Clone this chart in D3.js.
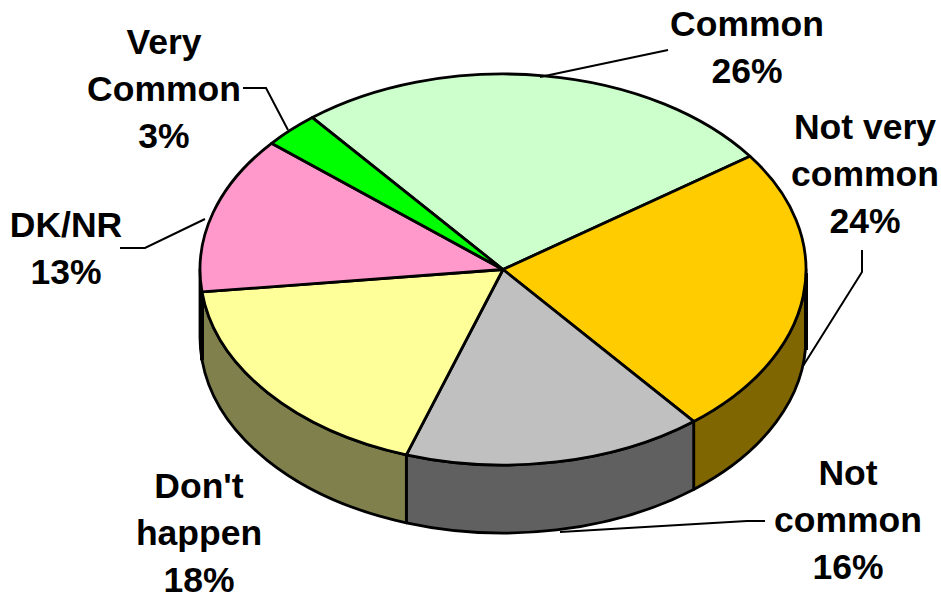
<!DOCTYPE html>
<html><head><meta charset="utf-8">
<script src="https://cdn.jsdelivr.net/npm/d3@7"></script>
<style>html,body{margin:0;background:#fff}svg{display:block}text{font-family:"Liberation Sans",Arial,sans-serif;font-weight:bold;font-size:35.5px;fill:#000;text-anchor:middle}</style>
</head><body><svg id="c" width="941" height="595"></svg>
<script>
const categories = ["Common","Not very common","Not common","Don't happen","DK/NR","Very Common"];
const values = [26,24,16,18,13,3];
const topColors = ["#CCFFCC","#FFCC00","#C0C0C0","#FFFF99","#FF99CC","#00FF00"];
const sideColors = ["#667F66","#806600","#606060","#80804D","#804D66","#008000"];
const labelLines = [["Common","26%"],["Not very","common","24%"],["Not","common","16%"],["Don't","happen","18%"],["DK/NR","13%"],["Very","Common","3%"]];
const labelAnchors = [[747,24],[865,127],[848,473],[199,486],[66,225],[164,42]];
const leaders = [[[668,50],[540,77]],[[862,250],[862,272],[803,366]],[[765,521],[747,521],[560,532]],[],[[120,248],[145,248],[205,219]],[[243,88],[266,88],[288,130]]];
const wallEdges = [[806,273,350],[202,293,360]];

const cx=503, cy=269.5, rx=303, ry=195.5, depth=68;
const svg=d3.select("#c");
const start=-39*Math.PI/180;
const pie=d3.pie().sort(null).startAngle(start).endAngle(start+2*Math.PI);
const arcs=pie(values);
const px=a=>cx+rx*Math.sin(a), py=a=>cy-ry*Math.cos(a);

// side wall (only the front half, angles PI/2 .. 3PI/2)
const sides=svg.append("g");
arcs.forEach((d,i)=>{
  const a0=Math.max(d.startAngle,Math.PI/2), a1=Math.min(d.endAngle,3*Math.PI/2);
  if(a1<=a0) return;
  const p=`M${px(a0)},${py(a0)}A${rx},${ry} 0 0 1 ${px(a1)},${py(a1)}L${px(a1)},${py(a1)+depth}A${rx},${ry} 0 0 0 ${px(a0)},${py(a0)+depth}Z`;
  sides.append("path").attr("d",p).attr("fill",sideColors[i]).attr("stroke","#000").attr("stroke-width",2.8).attr("stroke-linejoin","round");
});
// heavier vertical outline at the two extremes of the wall
const line=d3.line();
wallEdges.forEach(([x,y0,y1])=>{
  svg.append("path").attr("d",line([[x,y0],[x,y1]])).attr("stroke","#000").attr("stroke-width",4).attr("fill","none");
});
// top face
const arcGen=d3.arc().innerRadius(0).outerRadius(rx);
const topFace=svg.append("g").attr("transform",`translate(${cx},${cy}) scale(1,${ry/rx})`);
topFace.selectAll("path").data(arcs).join("path").attr("d",arcGen)
  .attr("fill",(d,i)=>topColors[i]).attr("stroke","#000").attr("stroke-width",2.8).attr("vector-effect","non-scaling-stroke").attr("stroke-linejoin","round");
// leaders
leaders.forEach(l=>{ if(l.length) svg.append("path").attr("d",line(l)).attr("fill","none").attr("stroke","#000").attr("stroke-width",2); });
// labels
labelLines.forEach((ls,i)=>{
  const t=svg.append("text").attr("x",labelAnchors[i][0]).attr("y",labelAnchors[i][1]+12);
  ls.forEach((s,j)=>t.append("tspan").attr("x",labelAnchors[i][0]).attr("dy",j?47:0).text(s));
});
</script></body></html>
